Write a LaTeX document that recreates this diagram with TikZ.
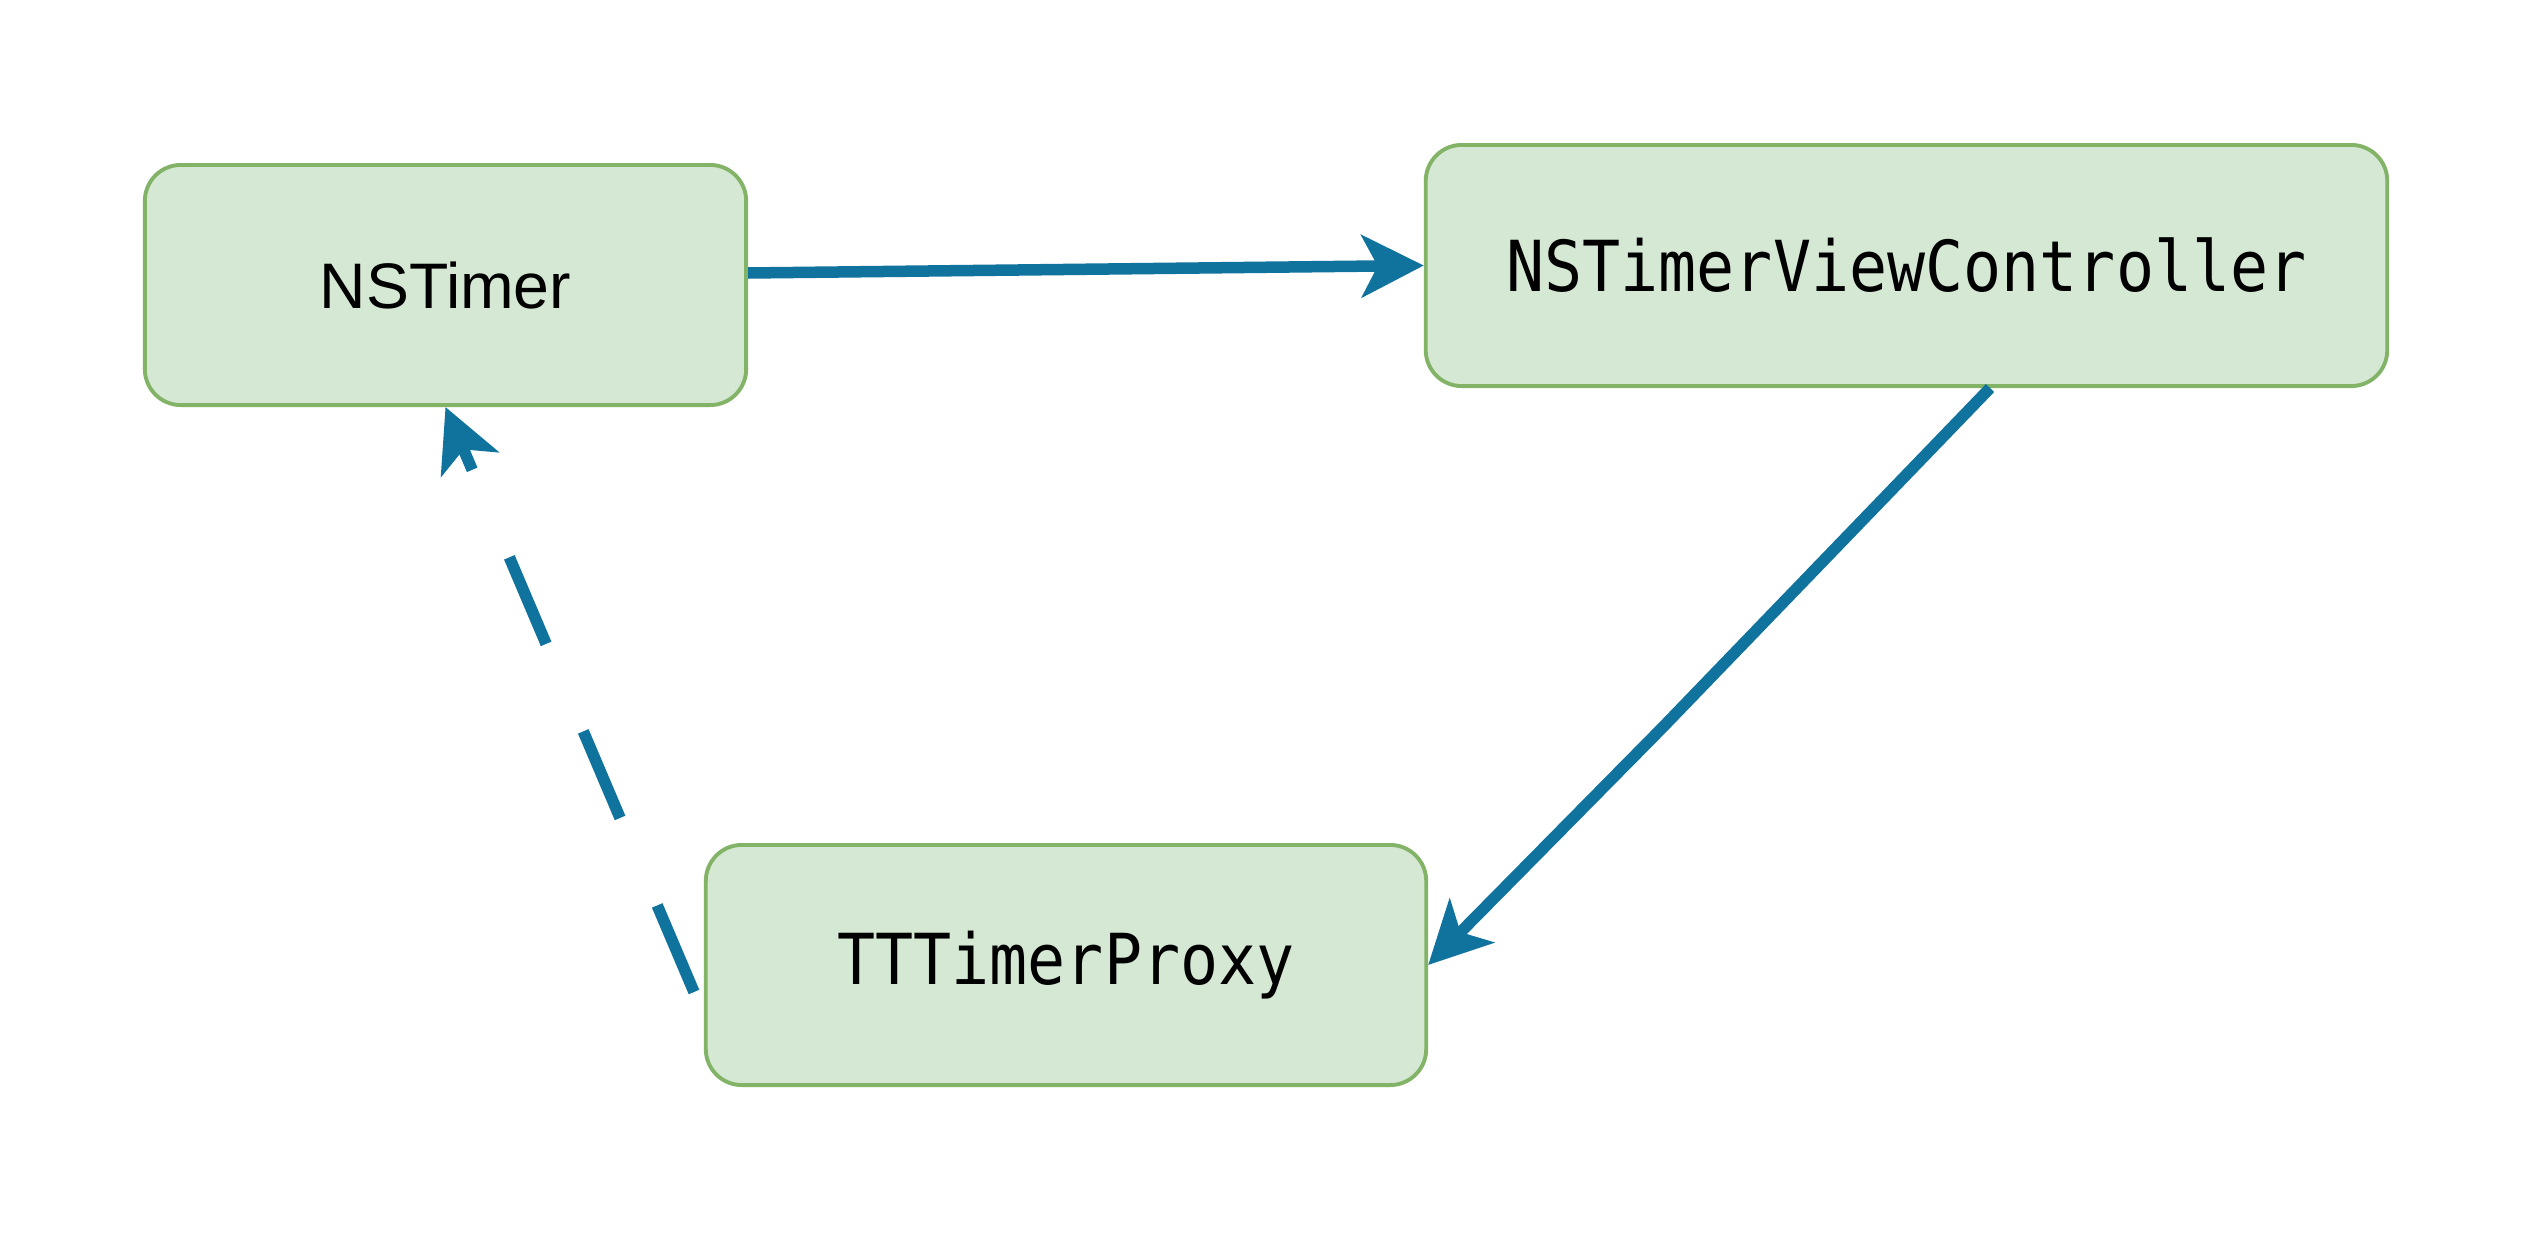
\documentclass[tikz,border=0pt]{standalone}
\usepackage{fontspec}
\setmainfont{Liberation Sans}
\setmonofont[FakeStretch=0.9]{DejaVu Sans Mono}
\usetikzlibrary{arrows.meta,positioning,calc}
\definecolor{boxfill}{HTML}{D5E8D4}
\definecolor{boxline}{HTML}{82B366}
\definecolor{linkblue}{HTML}{10739E}
\tikzset{
  classbox/.style={draw=boxline,fill=boxfill,rounded corners=0.36cm,line width=1.1pt,
    align=center,font=\fontsize{18.3}{22}\selectfont},
  codebox/.style={classbox,font=\ttfamily\fontsize{20}{24}\selectfont},
  link/.style={-{Stealth[length=0.62cm,width=0.62cm,inset=0.16cm]},draw=linkblue,line width=0.115cm},
  weaklink/.style={link,dash pattern=on 0.94cm off 0.95cm}
}
\begin{document}
\begin{tikzpicture}[x=0.01cm,y=-0.01cm]
    \useasboundingbox[fill=white] (0,0) rectangle (2532,1236);
    \node[classbox,minimum width=6.01cm,minimum height=2.40cm] (timer) at (445.5,285) {NSTimer};
    \node[codebox,minimum width=9.61cm,minimum height=2.41cm] (vc) at (1906.5,265.5) {NSTimerViewController};
    \node[codebox,minimum width=7.20cm,minimum height=2.40cm] (proxy) at (1066,965) {TTTimerProxy};
    \coordinate (bend) at (1663,727);
    \coordinate (proxyout) at (694,992);
    \draw[link] ([yshift=0.12cm]timer.east) -- (vc.west);
    \draw[link] ([xshift=0.835cm]vc.south) -- (bend) -- (proxy.east);
    \draw[weaklink] (proxyout) -- (timer.south);
\end{tikzpicture}
\end{document}
